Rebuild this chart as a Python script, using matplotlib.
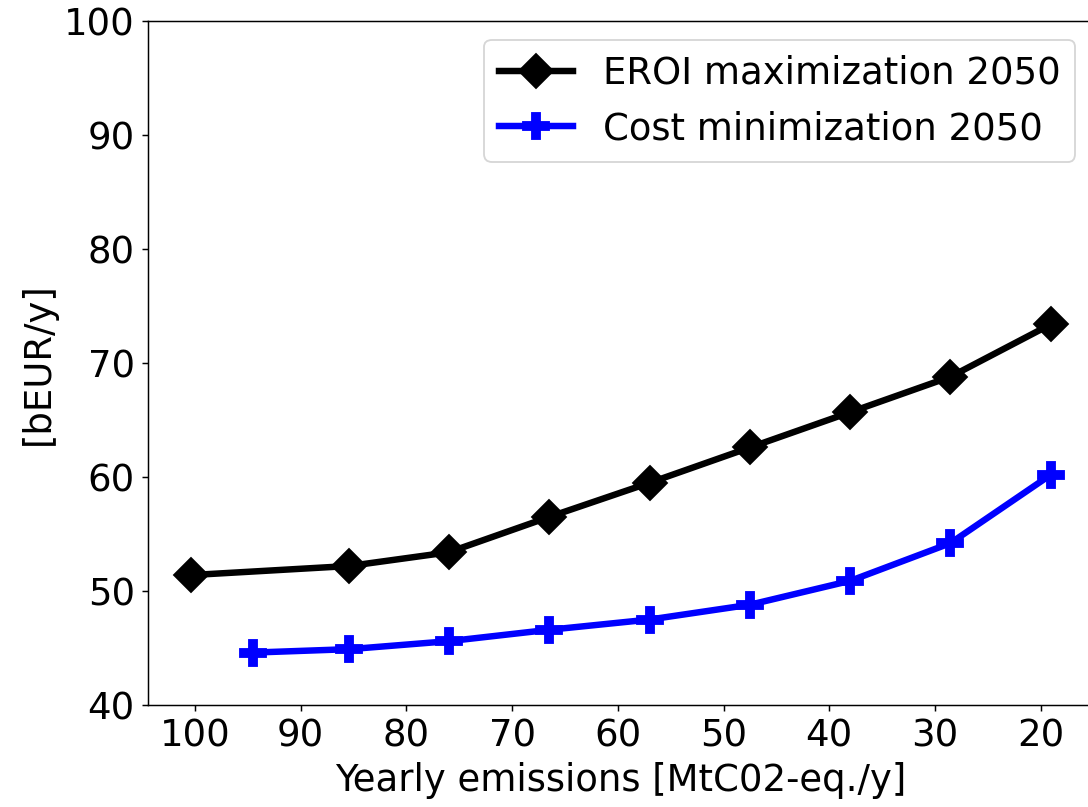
import matplotlib.pyplot as plt
import numpy as np

## Data
emis_eroi = [100.4, 85.4, 76.0, 66.5, 57.0, 47.5, 38.0, 28.55, 19.06]
cost_eroi = [51.4, 52.2, 53.4, 56.5, 59.5, 62.6, 65.7, 68.8, 73.4]

emis_cost = [94.5, 85.4, 76.0, 66.5, 57.0, 47.5, 38.0, 28.55, 19.06]
cost_cost = [44.6, 44.9, 45.6, 46.6, 47.5, 48.8, 50.9, 54.2, 60.2]

xticks = [100, 90, 80, 70, 60, 50, 40, 30, 20]
yticks = [40, 50, 60, 70, 80, 90, 100]

fs = 20
dpi = 133

fig, ax = plt.subplots(figsize=(1088 / dpi, 807 / dpi), dpi=dpi)
# axes run slightly past the right edge of the picture, like the original crop
fig.subplots_adjust(left=0.1358, right=1.0052, bottom=0.1264, top=0.9736)

ax.plot(emis_eroi, cost_eroi, color='black', lw=3.5, marker='D', markersize=13,
        label='EROI maximization 2050')
ax.plot(emis_cost, cost_cost, color='blue', lw=3.5, marker='P', markersize=14,
        label='Cost minimization 2050')

ax.invert_xaxis()
ax.set_ylim(40, 100)
ax.set_xticks(xticks)
ax.set_yticks(yticks)
ax.tick_params(labelsize=fs)
ax.set_xlabel('Yearly emissions [MtC02-eq./y]', fontsize=fs)
ax.set_ylabel('[bEUR/y]', fontsize=fs)
ax.legend(loc='upper right', fontsize=fs)

fig.savefig('out.png', dpi=dpi)
